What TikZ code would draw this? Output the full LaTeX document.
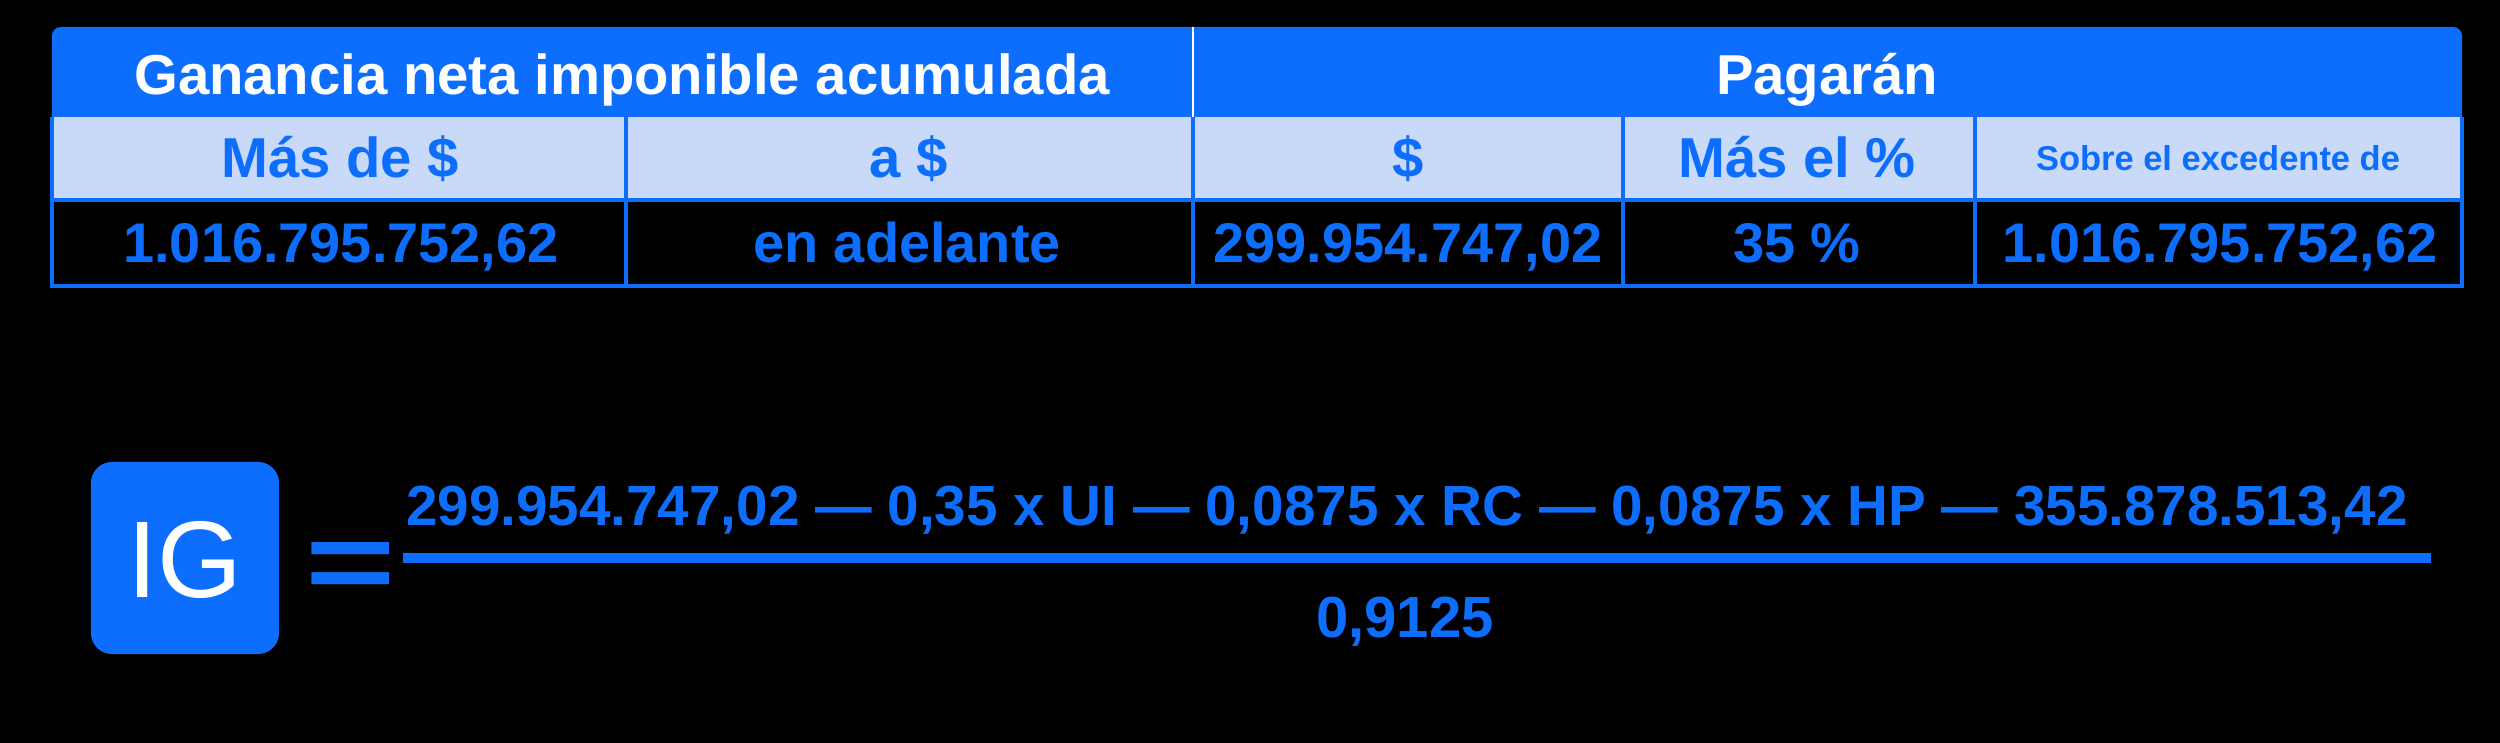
\documentclass[tikz,border=0pt]{standalone}
\usepackage{fontspec}
\setmainfont{Liberation Sans}
\definecolor{igblue}{RGB}{13,110,253}
\definecolor{iglight}{RGB}{201,218,248}
\tikzset{
  headtxt/.style={text=white,font=\fontsize{16pt}{19pt}\selectfont\bfseries,anchor=base,inner sep=0pt},
  subtxt/.style={text=igblue,font=\fontsize{16pt}{19pt}\selectfont\bfseries,anchor=base,inner sep=0pt},
  valtxt/.style={text=igblue,font=\fontsize{15.9pt}{18pt}\selectfont\bfseries,anchor=base,inner sep=0pt},
  rule/.style={igblue,line width=1.1pt}
}
\begin{document}
\begin{tikzpicture}[x=0.01cm,y=-0.01cm]
\fill[black](0,0)rectangle(2500,743);
\useasboundingbox(0,0)rectangle(2500,743);
\pgfmathsetmacro{\tl}{52}
\pgfmathsetmacro{\tr}{2462}
\pgfmathsetmacro{\ttop}{27}
\pgfmathsetmacro{\hbot}{117}
\pgfmathsetmacro{\sbot}{200}
\pgfmathsetmacro{\tbot}{286}
% table
\fill[igblue](\tl,\hbot)[rounded corners=2.5pt]--(\tl,\ttop)--(\tr,\ttop)[sharp corners]--(\tr,\hbot)--cycle;
\fill[iglight](\tl,\hbot)rectangle(\tr,\sbot);
\draw[white,line width=0.6pt](1193,\ttop)--(1193,\hbot);
\draw[rule](\tl,\hbot)--(\tl,\tbot)--(\tr,\tbot)--(\tr,\hbot);
\draw[rule](\tl,\sbot)--(\tr,\sbot);
\foreach \x in {626,1193,1623,1975}{\draw[rule](\x,\hbot)--(\x,\tbot);}
\node[headtxt](gnia) at (622,95){Ganancia neta imponible acumulada};
\node[headtxt](pag) at (1827,95){Pagarán};
\foreach \x/\t/\n in {340/{Más de \$}/masde,909/{a \$}/hasta,1408/{\$}/fijo,1797/{Más el \%}/masel}{\node[subtxt](\n) at (\x,178){\t};}
\node[subtxt,font=\fontsize{9.8pt}{12pt}\selectfont\bfseries](sobre) at (2218,171){Sobre el excedente de};
\foreach \x/\t/\n in {341/{1.016.795.752,62}/vmasde,907/{en adelante}/vhasta,1408/{299.954.747,02}/vfijo,1797/{35 \%}/vmasel,2220/{1.016.795.752,62}/vsobre}{\node[valtxt](\n) at (\x,263){\t};}
% formula
\node[fill=igblue,rounded corners=6pt,minimum width=188*0.2845pt,minimum height=192*0.2845pt,inner sep=0pt](igbox) at (185,558){};
\node[text=white,font=\fontsize{31pt}{36pt}\selectfont,anchor=base,inner sep=0pt](ig) at (185,597){IG};
\node[text=igblue,font=\fontsize{44pt}{50pt}\selectfont\bfseries,anchor=base,inner sep=0pt](eq) at (351,600){\scalebox{1}[0.72]{=}};
\node[valtxt,font=\fontsize{16.1pt}{18pt}\selectfont\bfseries](num) at (1407,525){299.954.747,02 — 0,35 x UI — 0,0875 x RC — 0,0875 x HP — 355.878.513,42};
\draw[igblue,line width=2.6pt](403,558)--(2431,558);
\node[valtxt,font=\fontsize{16.5pt}{19pt}\selectfont\bfseries](den) at (1405,637){0,9125};
\end{tikzpicture}
\end{document}
